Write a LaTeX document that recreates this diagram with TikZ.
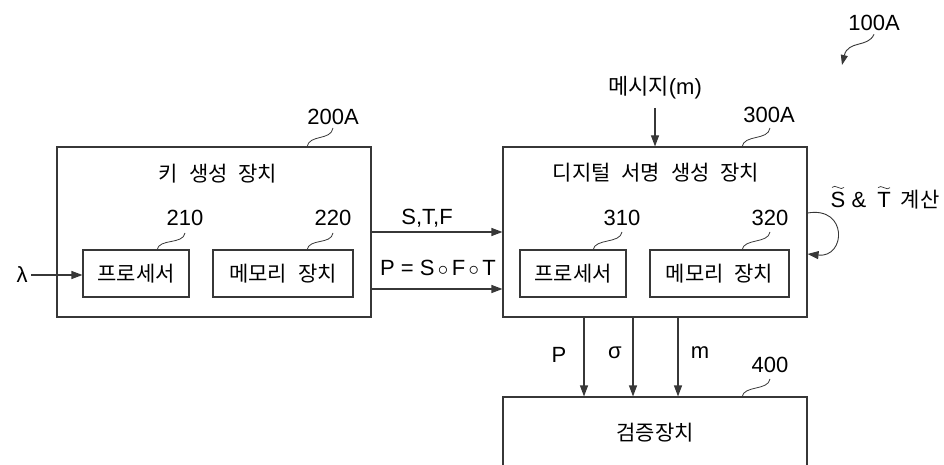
\documentclass[tikz,border=0pt]{standalone}
\usepackage{fontspec}
\setmainfont{Liberation Sans}
\newfontfamily\kr[WordSpace=2.3]{Noto Sans CJK KR}
\usetikzlibrary{arrows.meta}
\definecolor{ln}{RGB}{55,55,55}
\begin{document}
\begin{tikzpicture}[x=1pt,y=-1pt,
  box/.style={draw=ln,line width=1.1pt,inner sep=0pt},
  arr/.style={draw=ln,line width=1.1pt,-{Triangle[length=11pt,width=8pt]}},
  lead/.style={draw=ln,line width=0.8pt},
  kt/.style={font=\kr\fontsize{21}{24}\selectfont},
  lt/.style={font=\fontsize{22}{26}\selectfont}]
\useasboundingbox (0,0) rectangle (944,465);
\clip (0,0) rectangle (944,465);
% key generation device
\node[box,minimum width=314pt,minimum height=170pt] (k) at (214,232) {};
\node[kt] (ktitle) at (218,174) {키 생성 장치};
\node[box,kt,minimum width=106pt,minimum height=47pt] (p1) at (136,273.5) {프로세서};
\node[box,kt,minimum width=140pt,minimum height=47pt] (m1) at (283,273.5) {메모리 장치};
\node[lt] (l210) at (185,218) {210};
\node[lt] (l220) at (333,218) {220};
\node[lt] (l200) at (333,117) {200A};
% signature device
\node[box,minimum width=304pt,minimum height=170pt] (s) at (655,232) {};
\node[kt] (stitle) at (656,173) {디지털 서명 생성 장치};
\node[box,kt,minimum width=106pt,minimum height=47pt] (p2) at (573,273.5) {프로세서};
\node[box,kt,minimum width=139pt,minimum height=47pt] (m2) at (719.5,273.5) {메모리 장치};
\node[lt] (l310) at (622,218) {310};
\node[lt] (l320) at (770,218) {320};
\node[lt] (l300) at (769,115) {300A};
% verification device
\node[box,minimum width=304pt,minimum height=83pt] (v) at (655,438.5) {};
\node[kt] (vtitle) at (655,433) {검증장치};
\node[lt] (l400) at (770,365) {400};
\node[lt] (l100) at (874,23) {100A};
% inputs / labels
\node[lt] (lam) at (22,275) {λ};
\node[lt] (msg) at (655,88) {{\kr 메시지}(m)};
\node[lt] (stf) at (427,218) {S,T,F};
\node[lt] (pe) at (438,268) {P = S$\,\circ\,$F$\,\circ\,$T};
\node[lt] (lp) at (559,355) {P};
\node[lt] (ls) at (615,353) {σ};
\node[lt] (lm) at (700,353) {m};
% S~ & T~ calc
\node[lt,anchor=base,inner sep=0pt] (cs) at (838,207) {S};
\node[lt,anchor=base,inner sep=0pt] (ca) at (859,207) {\&};
\node[lt,anchor=base,inner sep=0pt] (ct) at (884,207) {T};
\node[kt,anchor=base,inner sep=0pt] (cg) at (920,207) {계산};
\draw[lead,line width=0.7pt] ([xshift=-6pt,yshift=4pt]cs.north) .. controls +(3,-4) and +(-3,4) .. ([xshift=6pt,yshift=4pt]cs.north);
\draw[lead,line width=0.7pt] ([xshift=-6pt,yshift=4pt]ct.north) .. controls +(3,-4) and +(-3,4) .. ([xshift=6pt,yshift=4pt]ct.north);
% coordinates
\coordinate (py) at (0,289);
\coordinate (ax1) at (584,0);
\coordinate (ax2) at (633,0);
\coordinate (ax3) at (678,0);
\coordinate (lpa) at (0,213);
\coordinate (lpb) at (0,254);
% connectors
\draw[arr] (lam.east) -- (p1.west |- lam.east);
\draw[arr] (k.east) -- (s.west);
\draw[arr] (k.east |- py) -- (s.west |- py);
\draw[arr,shorten <=5pt] (msg.south) -- (s.north);
\draw[arr] (s.south -| ax1) -- (v.north -| ax1);
\draw[arr] (s.south -| ax2) -- (v.north -| ax2);
\draw[arr] (s.south -| ax3) -- (v.north -| ax3);
\draw[draw=ln,line width=0.9pt,-{Triangle[length=11pt,width=8pt]}] (s.east |- lpa) .. controls (848,206) and (846,258) .. (s.east |- lpb);
% leaders
\draw[lead] (157,250) .. controls +(2,-12) and +(-2,12) .. (185,233);
\draw[lead] (307,250) .. controls +(2,-12) and +(-2,12) .. (333,233);
\draw[lead] (307,147) .. controls +(2,-13) and +(-2,13) .. (333,128);
\draw[lead] (593,250) .. controls +(2,-12) and +(-2,12) .. (622,232);
\draw[lead] (742,250) .. controls +(2,-12) and +(-2,12) .. (770,232);
\draw[lead] (742,147) .. controls +(2,-13) and +(-2,13) .. (770,128);
\draw[lead] (742,397) .. controls +(2,-12) and +(-2,12) .. (770,379);
\draw[draw=ln,line width=0.9pt,-{Triangle[length=10pt,width=7pt]}] (l100.south) .. controls (868,48) and (848,40) .. (842,65);
\end{tikzpicture}
\end{document}
